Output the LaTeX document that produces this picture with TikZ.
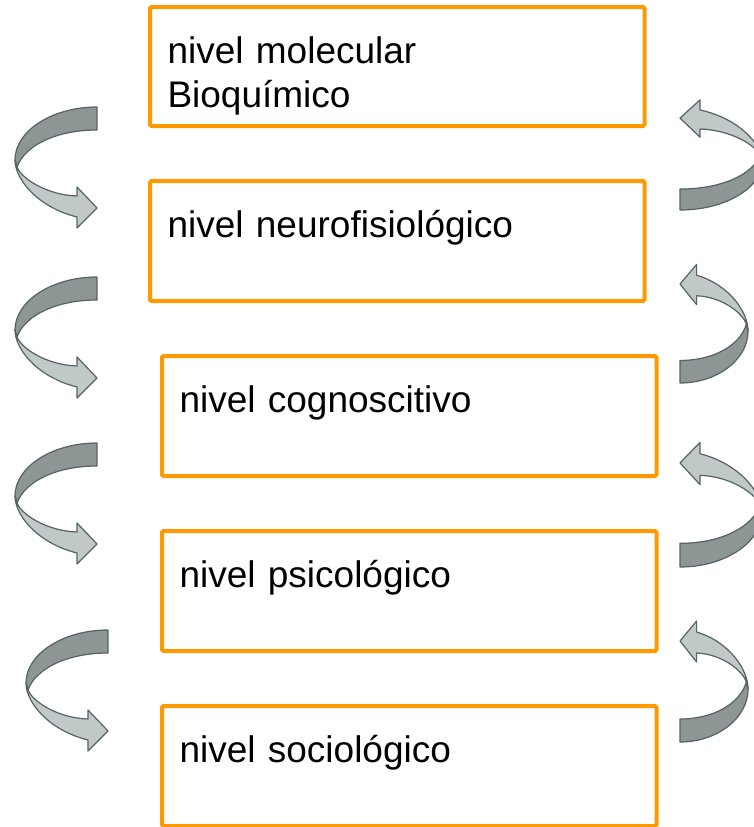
\documentclass[tikz,border=0pt]{standalone}
\usepackage{fontspec}
\setmainfont{Liberation Sans}
\usetikzlibrary{positioning}
\definecolor{lvorange}{RGB}{255,153,0}
\definecolor{turndark}{RGB}{141,149,149}
\definecolor{turnlight}{RGB}{192,200,200}
\definecolor{turnedge}{RGB}{88,98,98}
\tikzset{
  turnback/.style={fill=turndark,draw=turnedge,line width=1.2pt,line join=round},
  turnfront/.style={fill=turnlight,draw=turnedge,line width=1.2pt,line join=round},
  levelturn/.pic={
    \path[turnback] (0,0) .. controls (-45,0) and (-82,24) .. (-82,53) -- (-80,60)
      .. controls (-72,38) and (-40,23) .. (0,23) -- cycle;
    \path[turnfront] (-82,53) .. controls (-82,72) and (-60,100) .. (-20,110) -- (-20,121)
      -- (0,101) -- (-20,80) -- (-20,89) .. controls (-50,88) and (-75,72) .. (-80,60) -- cycle;
  }
}

\begin{document}
\begin{tikzpicture}[x=1pt,y=-1pt,
  level/.style={draw=lvorange,fill=white,line width=4pt,rounded corners=1.5pt,text width=459.5pt,inner xsep=17.5pt,inner ysep=0pt,align=left,text height=56pt,text depth=64pt,font=\fontsize{37}{44}\selectfont},
]
\path[use as bounding box,fill=white] (0,0) rectangle (753,827);

\node (mol) [level,text depth=63pt,anchor=north west] at (148,5) {nivel molecular\\Bioquímico};
\node (neuro) [level,below=51pt of mol] {nivel neurofisiológico};
\node (cogn) [level,below=51pt of neuro,xshift=12pt] {nivel cognoscitivo};
\node (psico) [level,below=51pt of cogn] {nivel psicológico};
\node (socio) [level,below=51pt of psico] {nivel sociológico};

\pic at (97,107) {levelturn};
\pic at (97,277) {levelturn};
\pic at (97,443) {levelturn};
\pic at (108,630) {levelturn};

\pic[rotate=180,yscale=.91] at (680,210) {levelturn};
\pic[rotate=180,xscale=.83,yscale=.98] at (680,383) {levelturn};
\pic[rotate=180,yscale=1.03] at (680,567) {levelturn};
\pic[rotate=180,xscale=.83] at (680,742) {levelturn};
\end{tikzpicture}
\end{document}
